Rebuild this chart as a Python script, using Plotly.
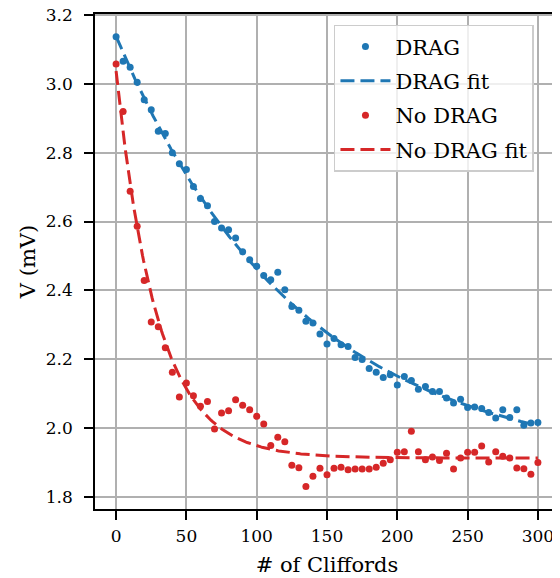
import numpy as np
import plotly.graph_objects as go

cliffords = list(range(0, 301, 5))

drag_v = [3.137, 3.066, 3.048, 3.005, 2.954, 2.925, 2.862, 2.856, 2.800, 2.768,
          2.751, 2.702, 2.667, 2.646, 2.600, 2.581, 2.576, 2.552, 2.512, 2.489,
          2.470, 2.443, 2.431, 2.453, 2.402, 2.353, 2.342, 2.310, 2.305, 2.273,
          2.244, 2.260, 2.242, 2.237, 2.205, 2.199, 2.173, 2.162, 2.147, 2.155,
          2.125, 2.150, 2.138, 2.113, 2.121, 2.106, 2.106, 2.087, 2.073, 2.084,
          2.060, 2.061, 2.057, 2.045, 2.029, 2.053, 2.031, 2.053, 2.008, 2.015,
          2.016]

nodrag_v = [3.058, 2.920, 2.688, 2.586, 2.429, 2.308, 2.294, 2.233, 2.162, 2.090,
            2.131, 2.094, 2.063, 2.077, 1.997, 2.044, 2.050, 2.082, 2.066, 2.053,
            2.034, 2.012, 1.949, 1.973, 1.960, 1.892, 1.885, 1.830, 1.860, 1.883,
            1.864, 1.883, 1.886, 1.879, 1.881, 1.881, 1.881, 1.886, 1.898, 1.908,
            1.930, 1.931, 1.991, 1.931, 1.908, 1.916, 1.906, 1.927, 1.881, 1.913,
            1.930, 1.930, 1.948, 1.901, 1.931, 1.918, 1.913, 1.884, 1.882, 1.866,
            1.900]

x_ticks = [0, 50, 100, 150, 200, 250, 300]
y_ticks = [1.8, 2.0, 2.2, 2.4, 2.6, 2.8, 3.0, 3.2]
y_tick_labels = ["1.8", "2.0", "2.2", "2.4", "2.6", "2.8", "3.0", "3.2"]

BLUE = "#1f77b4"
RED = "#d62728"
FONT = "DejaVu Serif, Liberation Serif, serif"


def exp_fit(x, y):
    x = np.asarray(x, float)
    y = np.asarray(y, float)
    best = None
    for tau in np.linspace(2, 600, 6000):
        M = np.column_stack([np.exp(-x / tau), np.ones_like(x)])
        coef, *_ = np.linalg.lstsq(M, y, rcond=None)
        r = np.sum((M @ coef - y) ** 2)
        if best is None or r < best[0]:
            best = (r, coef[0], tau, coef[1])
    _, a, tau, b = best
    return a, tau, b


xf = np.linspace(min(cliffords), max(cliffords), 400)
a1, t1, b1 = exp_fit(cliffords, drag_v)
a2, t2, b2 = exp_fit(cliffords, nodrag_v)

fig = go.Figure()
fig.add_trace(go.Scatter(x=cliffords, y=drag_v, mode="markers", name="DRAG",
                         legendgroup="a",
                         marker=dict(color=BLUE, size=7)))
fig.add_trace(go.Scatter(x=xf, y=a1 * np.exp(-xf / t1) + b1, mode="lines",
                         name="DRAG fit", legendgroup="b",
                         line=dict(color=BLUE, width=3, dash="14px,6px")))
fig.add_trace(go.Scatter(x=cliffords, y=nodrag_v, mode="markers", name="No DRAG",
                         legendgroup="c",
                         marker=dict(color=RED, size=7)))
fig.add_trace(go.Scatter(x=xf, y=a2 * np.exp(-xf / t2) + b2, mode="lines",
                         name="No DRAG fit", legendgroup="d",
                         line=dict(color=RED, width=3, dash="14px,6px")))

axis_common = dict(
    showline=True, mirror=True, linecolor="black", linewidth=1.5,
    ticks="outside", ticklen=9, tickwidth=1.5, tickcolor="black",
    showgrid=True, gridcolor="#b0b0b0", gridwidth=2,
    zeroline=False, automargin=False, ticklabeloverflow="allow",
    tickfont=dict(family=FONT, size=17, color="black"),
)

# The page body keeps its default 8px margin, so the figure is sized to fit
# the 560x578 window exactly.
fig.update_layout(
    width=552, height=570,
    margin=dict(l=87, r=1, t=6, b=69),
    paper_bgcolor="white", plot_bgcolor="white",
    font=dict(family=FONT, color="black"),
    showlegend=True,
    legend=dict(
        x=0.515, y=0.978, xanchor="left", yanchor="top",
        bgcolor="rgba(255,255,255,0.8)", bordercolor="#cccccc", borderwidth=1.5,
        font=dict(family=FONT, size=21, color="black"),
        tracegroupgap=4, itemwidth=50,
    ),
    xaxis=dict(axis_common, range=[-15, 315], tickmode="array",
               tickvals=x_ticks, ticklabelstandoff=2,
               title=dict(text="# of Cliffords", font=dict(family=FONT, size=21),
                          standoff=12)),
    yaxis=dict(axis_common, range=[1.7648, 3.203], tickmode="array",
               tickvals=y_ticks, ticktext=y_tick_labels, ticklabelstandoff=8,
               title=dict(text="V (mV)", font=dict(family=FONT, size=21),
                          standoff=4)),
)

fig.write_html("out.html")
